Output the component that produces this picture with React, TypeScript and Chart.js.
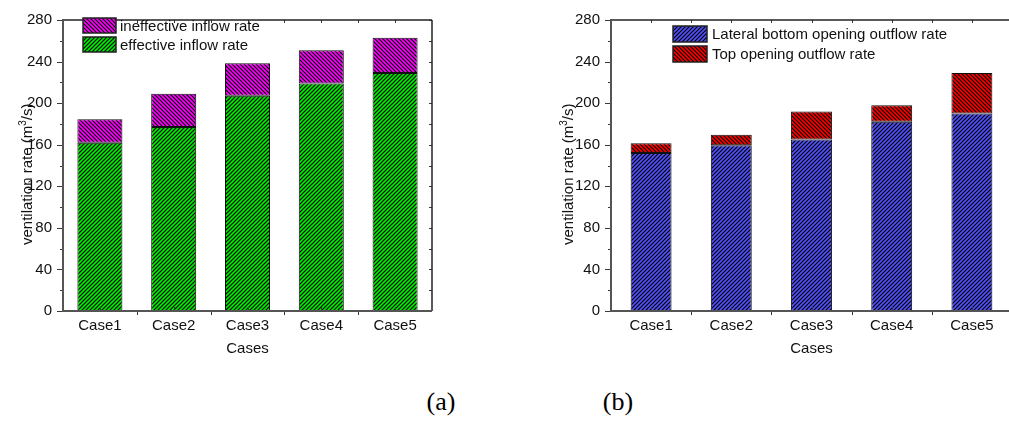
import React, { useEffect, useRef } from "react";
import { Chart, registerables } from "chart.js";

Chart.register(...registerables);

// ---- data ----
const cases = ["Case1", "Case2", "Case3", "Case4", "Case5"];

// panel (a): inflow split
const effectiveInflow = [162, 177, 207, 219, 229];
const ineffectiveInflow = [22.5, 32, 31.5, 32, 34];

// panel (b): outflow split
const lateralOutflow = [152, 159.5, 165, 182, 190];
const topOutflow = [9.5, 10, 27, 16, 39];

const yMin = 0;
const yMax = 280;
const yMajorStep = 40;
const yMinorStep = 20;

const FONT = "'Liberation Sans', Arial, Helvetica, sans-serif";
const AXIS_COLOR = "#3a3a3a";
const TEXT_COLOR = "#111";

type Dir = "/" | "\\";

function hatch(color: string, dir: Dir): CanvasPattern | string {
  const s = 4;
  const c = document.createElement("canvas");
  c.width = s;
  c.height = s;
  const g = c.getContext("2d");
  if (!g) return color;
  g.fillStyle = color;
  g.fillRect(0, 0, s, s);
  g.strokeStyle = "#000";
  g.lineWidth = 1.2;
  g.beginPath();
  if (dir === "/") {
    g.moveTo(-1, s + 1);
    g.lineTo(s + 1, -1);
    g.moveTo(-1, 1);
    g.lineTo(1, -1);
    g.moveTo(s - 1, s + 1);
    g.lineTo(s + 1, s - 1);
  } else {
    g.moveTo(-1, -1);
    g.lineTo(s + 1, s + 1);
    g.moveTo(-1, s - 1);
    g.lineTo(1, s + 1);
    g.moveTo(s - 1, -1);
    g.lineTo(s + 1, 1);
  }
  g.stroke();
  return g.createPattern(c, "repeat") || color;
}

interface LegendRow {
  label: string;
  fill: CanvasPattern | string;
  y: number;
}

interface PanelSpec {
  bottomLabel: string;
  topLabel: string;
  bottomValues: number[];
  topValues: number[];
  bottomColor: string;
  bottomDir: Dir;
  topColor: string;
  topDir: Dir;
  legendTopFirst: boolean;
  legendX: number;
  legendY: number[];
  legendBoxW: number;
  legendBoxH: number;
  legendTextX: number;
  barPercentage: number;
  yAxisWidth: number;
  padRight: number;
  yTitleX: number;
  yTitleBottom: number;
}

const CANVAS_W = 500;
const CANVAS_H = 380;
const PLOT_TOP = 12;
const PLOT_BOTTOM = 311;

function line(ctx: CanvasRenderingContext2D, x1: number, y1: number, x2: number, y2: number) {
  ctx.beginPath();
  ctx.moveTo(x1, y1);
  ctx.lineTo(x2, y2);
  ctx.stroke();
}

function buildChart(canvas: HTMLCanvasElement, p: PanelSpec): Chart {
  const bottomFill = hatch(p.bottomColor, p.bottomDir);
  const topFill = hatch(p.topColor, p.topDir);

  const rowsSrc = [
    { label: p.topLabel, fill: topFill },
    { label: p.bottomLabel, fill: bottomFill },
  ];
  if (!p.legendTopFirst) rowsSrc.reverse();
  const rows: LegendRow[] = rowsSrc.map((r, i) => ({ ...r, y: p.legendY[i] }));

  const decor = {
    id: "panelDecor",
    afterDraw(chart: Chart) {
      const { ctx, chartArea: a } = chart;
      const x = chart.scales.x;
      const y = chart.scales.y;
      ctx.save();

      // y ticks: outward on the left, inward on the right
      ctx.strokeStyle = AXIS_COLOR;
      ctx.lineWidth = 1;
      for (let v = yMin; v <= yMax; v += yMinorStep) {
        const py = Math.round(y.getPixelForValue(v)) + 0.5;
        const major = v % yMajorStep === 0;
        line(ctx, a.left - (major ? 6 : 3), py, a.left, py);
        line(ctx, a.right - 3, py, a.right, py);
      }
      // x ticks at category centres and boundaries
      const n = cases.length;
      for (let i = 0; i < n; i++) {
        const cx = Math.round(x.getPixelForValue(i)) + 0.5;
        line(ctx, cx, a.bottom - 4, cx, a.bottom);
        line(ctx, cx, a.top, cx, a.top + 3);
      }
      for (let i = 1; i < n; i++) {
        const bx = Math.round((x.getPixelForValue(i - 1) + x.getPixelForValue(i)) / 2) + 0.5;
        line(ctx, bx, a.bottom, bx, a.bottom + 4);
        line(ctx, bx, a.top, bx, a.top + 3);
      }

      // frame
      ctx.lineWidth = 1.5;
      ctx.strokeStyle = "#222";
      line(ctx, a.left, a.top, a.right, a.top);
      line(ctx, a.right, a.top, a.right, a.bottom);
      ctx.lineWidth = 2;
      ctx.strokeStyle = "#555";
      line(ctx, a.left, a.top - 1, a.left, a.bottom + 1);
      line(ctx, a.left - 1, a.bottom, a.right, a.bottom);

      // legend
      ctx.font = `15px ${FONT}`;
      ctx.textAlign = "left";
      ctx.textBaseline = "middle";
      for (const r of rows) {
        ctx.fillStyle = r.fill as any;
        ctx.fillRect(p.legendX, r.y, p.legendBoxW, p.legendBoxH);
        ctx.lineWidth = 1.5;
        ctx.strokeStyle = "#222";
        ctx.strokeRect(p.legendX, r.y, p.legendBoxW, p.legendBoxH);
        ctx.fillStyle = TEXT_COLOR;
        ctx.fillText(r.label, p.legendTextX, r.y + p.legendBoxH / 2 + 1);
      }

      // x title
      ctx.fillStyle = TEXT_COLOR;
      ctx.textAlign = "center";
      ctx.fillText("Cases", (a.left + a.right) / 2, 349);

      // y title (rotated, with superscript)
      ctx.translate(p.yTitleX, p.yTitleBottom);
      ctx.rotate(-Math.PI / 2);
      ctx.textAlign = "left";
      ctx.textBaseline = "alphabetic";
      const t1 = "ventilation rate (m";
      const t2 = "3";
      const t3 = "/s)";
      ctx.font = `15px ${FONT}`;
      ctx.fillText(t1, 0, 0);
      let off = ctx.measureText(t1).width;
      ctx.font = `10px ${FONT}`;
      ctx.fillText(t2, off, -6);
      off += ctx.measureText(t2).width;
      ctx.font = `15px ${FONT}`;
      ctx.fillText(t3, off, 0);

      ctx.restore();
    },
  };

  return new Chart(canvas, {
    type: "bar",
    data: {
      labels: cases,
      datasets: [
        {
          label: p.bottomLabel,
          data: p.bottomValues,
          backgroundColor: bottomFill as any,
          borderColor: "#111",
          borderWidth: 1,
          borderSkipped: false,
          barPercentage: p.barPercentage,
          categoryPercentage: 1,
        },
        {
          label: p.topLabel,
          data: p.topValues,
          backgroundColor: topFill as any,
          borderColor: "#111",
          borderWidth: 1,
          borderSkipped: false,
          barPercentage: p.barPercentage,
          categoryPercentage: 1,
        },
      ],
    },
    options: {
      animation: false,
      responsive: false,
      devicePixelRatio: 1,
      layout: { padding: { top: PLOT_TOP, right: p.padRight, left: 0, bottom: 0 } },
      plugins: {
        legend: { display: false },
        tooltip: { enabled: false },
      },
      scales: {
        x: {
          stacked: true,
          grid: { display: false, drawTicks: false, tickLength: 0 },
          border: { display: false },
          ticks: {
            color: TEXT_COLOR,
            font: { family: FONT, size: 15 },
            padding: 6,
            maxRotation: 0,
            autoSkip: false,
          },
          afterFit(scale: any) {
            scale.height = CANVAS_H - PLOT_BOTTOM;
          },
        },
        y: {
          stacked: true,
          min: yMin,
          max: yMax,
          grid: { display: false, drawTicks: false, tickLength: 0 },
          border: { display: false },
          ticks: {
            stepSize: yMajorStep,
            color: TEXT_COLOR,
            font: { family: FONT, size: 15 },
            padding: 11,
          },
          afterFit(scale: any) {
            scale.width = p.yAxisWidth;
          },
        },
      },
    },
    plugins: [decor],
  });
}

const panelA: PanelSpec = {
  bottomLabel: "effective inflow rate",
  topLabel: "ineffective inflow rate",
  bottomValues: effectiveInflow,
  topValues: ineffectiveInflow,
  bottomColor: "#00ee00",
  bottomDir: "/",
  topColor: "#ff00ff",
  topDir: "\\",
  legendTopFirst: true,
  legendX: 83,
  legendY: [18, 37],
  legendBoxW: 33,
  legendBoxH: 15,
  legendTextX: 120,
  barPercentage: 0.61,
  yAxisWidth: 63,
  padRight: CANVAS_W - 432,
  yTitleX: 32,
  yTitleBottom: 245,
};

const panelB: PanelSpec = {
  bottomLabel: "Lateral bottom opening outflow rate",
  topLabel: "Top opening outflow rate",
  bottomValues: lateralOutflow,
  topValues: topOutflow,
  bottomColor: "#5252ff",
  bottomDir: "/",
  topColor: "#ff0000",
  topDir: "\\",
  legendTopFirst: false,
  legendX: 153,
  legendY: [26, 46],
  legendBoxW: 34,
  legendBoxH: 16,
  legendTextX: 192,
  barPercentage: 0.51,
  yAxisWidth: 91,
  padRight: 8,
  yTitleX: 53,
  yTitleBottom: 245,
};

function Panel({ spec, left }: { spec: PanelSpec; left: number }) {
  const ref = useRef<HTMLCanvasElement>(null);
  useEffect(() => {
    if (!ref.current) return;
    const chart = buildChart(ref.current, spec);
    return () => chart.destroy();
  }, [spec]);
  return (
    <canvas
      ref={ref}
      width={CANVAS_W}
      height={CANVAS_H}
      style={{ position: "absolute", left, top: 0, width: CANVAS_W, height: CANVAS_H }}
    />
  );
}

const captionStyle: React.CSSProperties = {
  position: "absolute",
  top: 386,
  width: 60,
  textAlign: "center",
  fontFamily: "'Liberation Serif', 'Times New Roman', serif",
  fontSize: 26,
  lineHeight: "32px",
  color: "#000",
};

export default function App() {
  return (
    <div
      style={{
        position: "fixed",
        left: 0,
        top: 0,
        width: 1009,
        height: 421,
        overflow: "hidden",
        background: "#fff",
      }}
    >
      <Panel spec={panelA} left={0} />
      <Panel spec={panelB} left={520} />
      <div style={{ ...captionStyle, left: 441 - 30 }}>(a)</div>
      <div style={{ ...captionStyle, left: 618 - 30 }}>(b)</div>
    </div>
  );
}
